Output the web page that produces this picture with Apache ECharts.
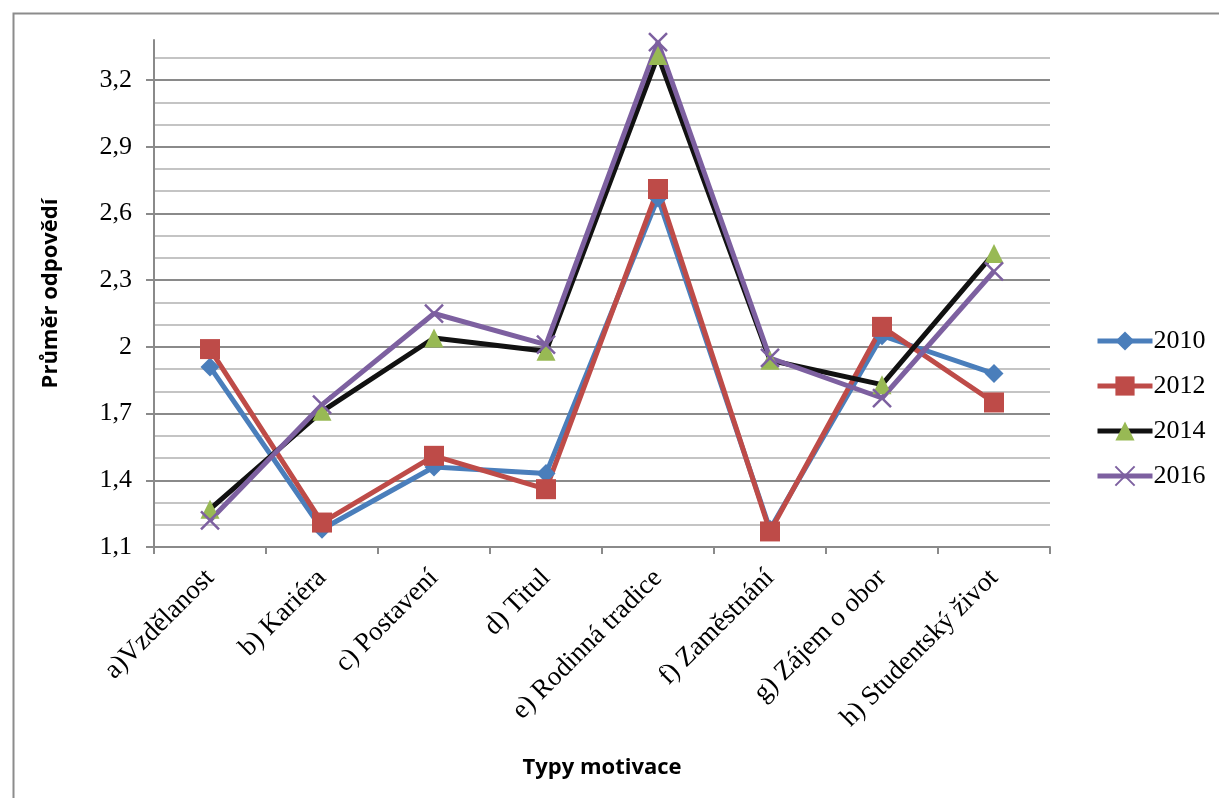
<!DOCTYPE html>
<html>
<head>
<meta charset="utf-8">
<script src="https://cdn.jsdelivr.net/npm/echarts@6/dist/echarts.min.js"></script>
<style>
  html, body { margin: 0; padding: 0; background: #fff; }
  #chart { width: 1219px; height: 798px; }
</style>
</head>
<body>
<div id="chart"></div>
<script>
// Motivation types (categories)
const categories = [
  'a)Vzdělanost', 'b) Kariéra', 'c) Postavení', 'd) Titul',
  'e) Rodinná tradice', 'f) Zaměstnání', 'g) Zájem o obor', 'h) Studentský život'
];

// Average answers per survey year
const values2010 = [1.91, 1.18, 1.46, 1.43, 2.67, 1.18, 2.05, 1.88];
const values2012 = [1.99, 1.21, 1.51, 1.36, 2.71, 1.17, 2.09, 1.75];
const values2014 = [1.27, 1.71, 2.04, 1.98, 3.31, 1.94, 1.83, 2.42];
const values2016 = [1.22, 1.74, 2.15, 2.01, 3.37, 1.95, 1.77, 2.34];

// Labelled y ticks (minor gridlines every 0.1 in between)
const yTickLabels = [1.1, 1.4, 1.7, 2.0, 2.3, 2.6, 2.9, 3.2];

const Y_MIN = 1.1, Y_MAX = 3.38, Y_MINOR_STEP = 0.1;

const fmt = v => String(Math.round(v * 10) / 10).replace('.', ',');

const serif = 'Liberation Serif';
const sansBold = { fontFamily: 'Open Sans', fontWeight: 'bold', fontSize: 22, color: '#000' };
const axisGrey = '#8a8a8a';
const crossPath = 'path://M0,0L10,10M10,0L0,10';

function series(name, data, lineColor, symbol, markColor, size, extra) {
  return Object.assign({
    name: name,
    type: 'line',
    yAxisIndex: 0,
    data: data,
    symbol: symbol,
    symbolSize: size,
    clip: false,
    lineStyle: { color: lineColor, width: 5 },
    itemStyle: { color: markColor },
    emphasis: { disabled: true }
  }, extra || {});
}

const chart = echarts.init(document.getElementById('chart'), null, { renderer: 'canvas' });

chart.setOption({
  animation: false,
  backgroundColor: '#ffffff',
  graphic: [{
    type: 'rect',
    left: 11, top: 11,
    shape: { width: 1230, height: 810 },
    style: { fill: 'none', stroke: '#8c8c8c', lineWidth: 2 },
    z: -10
  }],
  grid: { left: 154, right: 169, top: 40, bottom: 251, containLabel: false },
  legend: {
    orient: 'vertical',
    left: 1090,
    top: 323,
    itemWidth: 55,
    itemHeight: 24,
    itemGap: 19,
    lineStyle: { width: 5 },
    textStyle: { fontFamily: serif, fontSize: 26, color: '#000', padding: [0, 0, 0, -4] },
    data: ['2010', '2012', '2014', '2016']
  },
  xAxis: {
    type: 'category',
    data: categories,
    boundaryGap: true,
    name: 'Typy motivace',
    nameLocation: 'middle',
    nameGap: 210,
    nameTextStyle: sansBold,
    axisLine: { lineStyle: { color: axisGrey, width: 2 } },
    axisTick: { show: true, alignWithLabel: false, length: 7, lineStyle: { color: axisGrey, width: 2 } },
    axisLabel: {
      rotate: 45,
      margin: 27,
      interval: 0,
      fontFamily: serif,
      fontSize: 27,
      color: '#000'
    },
    splitLine: { show: false }
  },
  yAxis: [{
    // labelled axis: values, ticks and the darker major gridlines
    type: 'value',
    min: Y_MIN,
    max: Y_MAX,
    name: 'Průměr odpovědí',
    nameLocation: 'middle',
    nameGap: 92,
    nameTextStyle: sansBold,
    z: 3,
    axisLine: { show: true, lineStyle: { color: axisGrey, width: 2 } },
    axisTick: {
      show: true, length: 8, customValues: yTickLabels,
      lineStyle: { color: axisGrey, width: 2 }
    },
    axisLabel: {
      margin: 22,
      fontFamily: serif,
      fontSize: 26,
      color: '#000',
      customValues: yTickLabels,
      formatter: v => fmt(v)
    },
    splitLine: {
      show: true,
      showMinLine: false,
      lineStyle: { color: axisGrey, width: 2 }
    }
  }, {
    // unlabelled axis: light gridlines every 0.1
    type: 'value',
    position: 'left',
    min: Y_MIN,
    max: Y_MAX,
    interval: Y_MINOR_STEP,
    z: 1,
    axisLine: { show: false },
    axisTick: { show: false },
    axisLabel: { show: false },
    splitLine: {
      show: true,
      showMinLine: false,
      showMaxLine: false,
      lineStyle: { color: '#c4c4c4', width: 2 }
    }
  }],
  series: [
    series('2010', values2010, '#4a7ebb', 'diamond', '#4a7ebb', 19),
    series('2012', values2012, '#be4b48', 'rect', '#be4b48', 20),
    series('2014', values2014, '#111111', 'triangle', '#98b954', 19),
    series('2016', values2016, '#7d60a0', crossPath, '#7d60a0', 18, {
      itemStyle: { color: 'none', borderColor: '#7d60a0', borderWidth: 2.5 }
    })
  ]
});
</script>
</body>
</html>
